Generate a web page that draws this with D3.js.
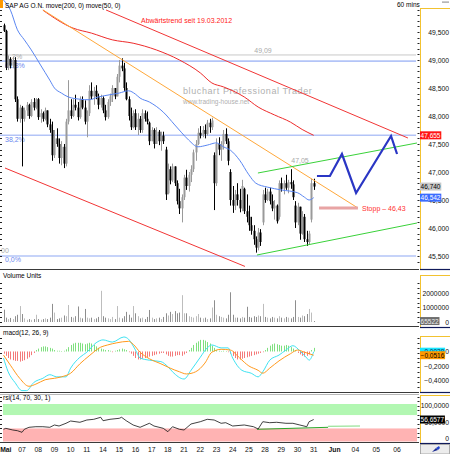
<!DOCTYPE html>
<html><head><meta charset="utf-8">
<script src="https://cdnjs.cloudflare.com/ajax/libs/d3/7.8.5/d3.min.js"></script>
<style>body{margin:0;background:#fff}svg{display:block}text{font-family:"Liberation Sans",Arial,sans-serif}</style>
</head><body><svg id="c" width="450" height="454"></svg>
<script>
// ---------- DATA ----------
const dayLabels = ["Mai","07","08","09","10","11","14","15","16","17","18","21","22","23","24","25","28","29","30","31","Jun","04","05","06"];
const daySlots  = [0,7,14,21,28,35,42,49,56,63,70,77,84,91,98,105,112,119,126,133,142,151,160,169];
const openP  = [49.62,49.52,48.86,49.02,48.90,49.00,48.30,47.95,48.15,47.95,48.10,48.20,48.00,48.25,48.15,48.30,47.98,48.05,47.95,48.10,47.85,47.75,47.30,47.60,47.50,47.25,47.45,47.15,47.90,48.10,48.00,48.20,48.15,47.98,48.30,48.15,47.90,48.05,48.45,48.35,48.45,48.35,48.20,48.32,48.10,47.98,48.25,48.35,48.50,48.35,48.70,48.90,48.85,48.50,48.30,48.00,47.80,48.05,47.80,47.95,47.75,48.05,47.95,47.88,47.55,47.75,47.50,47.72,47.55,47.65,47.40,46.62,47.05,46.85,47.10,46.80,46.48,46.35,46.55,46.90,46.75,46.95,47.05,47.35,47.50,47.70,47.65,47.75,47.68,47.88,47.80,47.30,46.80,47.50,47.40,47.50,47.68,47.55,47.00,46.50,46.40,46.60,46.50,46.35,46.70,46.30,46.20,46.05,45.95,45.80,45.65,45.92,46.10,46.60,46.50,46.65,46.48,46.35,46.40,46.20,46.80,46.70,46.80,46.72,46.82,46.78,46.40,46.10,46.38,45.90,46.20,45.80,45.75,46.15,46.80];
const highP  = [49.65,49.54,49.08,49.05,49.06,49.05,48.35,48.20,48.18,48.15,48.25,48.22,48.30,48.32,48.32,48.32,48.12,48.08,48.15,48.10,47.95,47.90,47.75,47.78,47.60,47.55,47.50,47.95,48.64,48.30,48.30,48.38,48.25,48.35,48.35,48.28,48.10,48.55,48.60,48.52,48.55,48.40,48.38,48.35,48.20,48.30,48.40,48.55,48.50,48.75,49.00,49.03,48.95,48.60,48.35,48.15,48.10,48.12,48.05,48.00,48.12,48.10,48.08,47.90,47.80,47.78,47.80,47.75,47.72,47.72,47.45,47.15,47.10,47.15,47.10,46.85,46.70,46.60,46.95,47.04,47.00,47.12,47.40,47.57,47.78,47.82,47.82,47.85,47.93,47.95,47.97,47.35,47.60,47.62,47.55,47.75,47.78,47.60,47.05,46.75,46.68,46.80,46.70,46.86,46.72,46.60,46.40,46.20,46.05,45.85,46.00,45.98,46.68,46.72,46.70,46.72,46.60,46.50,46.42,46.85,46.90,46.85,46.95,46.86,47.05,46.85,46.48,46.45,46.38,46.30,46.25,45.95,45.95,46.88,46.88];
const lowP   = [49.50,48.82,48.82,48.85,48.86,48.25,47.90,47.88,47.10,47.90,48.00,47.95,47.98,48.10,48.12,47.93,47.88,47.90,47.92,47.80,47.70,47.20,47.25,47.45,47.15,47.12,47.07,47.10,47.85,47.95,47.98,48.10,47.92,47.95,48.12,47.85,47.62,48.00,48.30,48.20,48.30,48.12,48.15,48.05,47.92,47.95,48.18,48.25,48.30,48.35,48.60,48.80,48.45,48.28,47.92,47.75,47.78,47.75,47.66,47.70,47.70,47.90,47.85,47.48,47.55,47.42,47.50,47.48,47.38,47.50,46.50,46.60,46.78,46.82,46.75,46.42,46.25,46.10,46.50,46.68,46.65,46.82,47.00,47.20,47.48,47.60,47.62,47.60,47.65,47.70,47.75,46.32,46.75,47.30,47.20,47.40,47.50,47.12,46.40,46.27,46.32,46.40,46.28,46.30,46.25,46.10,45.95,45.88,45.70,45.56,45.60,45.68,46.05,46.45,46.48,46.42,46.30,46.15,46.08,46.15,46.65,46.60,46.68,46.62,46.70,46.50,46.00,46.05,45.79,45.88,45.75,45.68,45.70,46.10,46.68];
const closeP = [49.52,48.86,49.02,48.90,49.00,48.30,47.95,48.15,47.95,48.10,48.20,48.00,48.25,48.15,48.30,47.98,48.05,47.95,48.10,47.85,47.75,47.30,47.60,47.50,47.25,47.45,47.15,47.90,48.10,48.00,48.20,48.15,47.98,48.30,48.15,47.90,48.05,48.45,48.35,48.45,48.35,48.20,48.32,48.10,47.98,48.25,48.35,48.50,48.35,48.70,48.90,48.85,48.50,48.30,48.00,47.80,48.05,47.80,47.95,47.75,48.05,47.95,47.90,47.55,47.75,47.50,47.72,47.55,47.65,47.55,46.60,47.05,46.85,47.10,46.80,46.48,46.35,46.55,46.90,46.75,46.95,47.05,47.35,47.50,47.70,47.65,47.75,47.68,47.88,47.80,47.92,46.80,47.50,47.40,47.50,47.68,47.55,47.20,46.50,46.40,46.60,46.50,46.35,46.75,46.30,46.20,46.05,45.95,45.80,45.65,45.92,45.75,46.60,46.50,46.65,46.48,46.35,46.40,46.12,46.80,46.70,46.80,46.72,46.82,46.78,46.55,46.10,46.38,45.90,46.20,45.80,45.75,45.90,46.80,46.74];
const volume = [850000,300000,200000,280000,200000,400000,500000, 1100000,550000,250000,150000,200000,150000,200000, 500000,200000,150000,200000,250000,200000,300000, 1250000,650000,200000,250000,300000,450000,400000, 1170000,350000,300000,400000,1070000,300000,250000, 900000,300000,250000,300000,200000,250000,350000, 2150000,400000,300000,250000,200000,350000,200000, 1100000,300000,250000,400000,700000,500000,300000, 1100000,600000,400000,250000,300000,200000,350000, 830000,300000,200000,250000,300000,200000,350000, 600000,450000,700000,550000,750000,600000,650000, 1850000,600000,600000,400000,350000,300000,400000, 550000,300000,250000,300000,200000,250000,1000000, 1500000,500000,400000,350000,300000,250000,500000, 2050000,500000,300000,300000,250000,350000,300000, 1050000,350000,300000,400000,350000,450000,400000, 1250000,350000,300000,250000,350000,300000,250000, 400000,300000,250000,350000,300000,250000,350000, 1500000,350000,300000,450000,400000,550000,900000, 650000,65522];
const ma50Idx = [0,3,6,9,12,16,20,22,25,28,33,37,41,46,50,54,57,59,63,69,74,77,80,84,88,92,95,98,102,106,109,114,120,127,130,132,134];
const ma50 = [50.07,49.89,49.54,49.36,49.18,48.91,48.64,48.50,48.41,48.34,48.30,48.29,48.34,48.38,48.41,48.45,48.39,48.32,48.25,48.07,47.84,47.70,47.57,47.45,47.48,47.52,47.45,47.39,47.21,46.95,46.80,46.73,46.68,46.63,46.55,46.50,46.542];
const ma200Idx = [17,30,38,47,56,66,76,85,90,95,104,110,117,124,129,134];
const ma200 = [49.89,49.57,49.48,49.36,49.30,49.18,49.00,48.77,48.59,48.52,48.34,48.16,48.02,47.89,47.76,47.655];
const macdIdx = [0,2,5,8,10,13,17,20,23,27,29,33,36,40,43,47,52,54,57,59,63,68,71,73,78,81,85,88,90,94,97,99,103,107,110,112,115,119,122,125,128,131,132,134];
const macdVal = [-0.09,-0.28,-0.43,-0.54,-0.54,-0.43,-0.37,-0.32,-0.35,-0.35,-0.23,-0.08,-0.01,0.12,0.16,0.13,0.20,0.17,0.02,-0.09,-0.12,-0.14,-0.21,-0.28,-0.38,-0.26,-0.08,0.05,0.09,0.05,0.05,-0.09,-0.26,-0.30,-0.35,-0.28,-0.12,-0.05,0.02,0.08,0.01,-0.09,-0.12,-0.0028];
const sigIdx = [0,3,7,11,14,18,22,25,29,33,37,42,45,49,54,56,59,63,68,72,76,79,83,87,90,94,98,102,106,110,112,115,119,124,127,130,134];
const sigVal = [-0.05,-0.19,-0.37,-0.48,-0.45,-0.39,-0.37,-0.35,-0.30,-0.17,-0.06,0.06,0.09,0.12,0.14,0.10,-0.01,-0.10,-0.17,-0.23,-0.28,-0.31,-0.28,-0.16,-0.01,0.03,0.02,-0.09,-0.20,-0.26,-0.30,-0.23,-0.13,-0.03,0.02,-0.01,-0.0516];
const histVal = [-0.03,-0.06,-0.09,-0.11,-0.12,-0.13,-0.13,-0.14,-0.13,-0.12,-0.10,-0.08,-0.05,-0.02,
 0.02,0.04,0.06,0.07,0.07,0.06,0.05,0.04, 0.02,0.01,0.01,0.0,0.01,
 0.03,0.06,0.09,0.11,0.12,0.12,0.12,0.11,0.10,0.11,0.12,0.11,0.09,0.07,
 0.05,0.04,0.03,0.02,0.02,0.01,-0.01,0.01,0.02,0.03,0.04,0.03,0.02,
 -0.01,-0.03,-0.06,-0.09,-0.11,-0.11,-0.10,-0.09,-0.08,-0.07,-0.06,-0.05,-0.04,-0.03,-0.02,
 -0.02,-0.04,-0.06,-0.07,-0.07,-0.06,-0.05,-0.05,-0.06,-0.04,-0.02,
 0.02,0.05,0.09,0.12,0.14,0.16,0.16,0.15,0.13,0.11,0.08,0.05,0.02,
 0.01,0.0,0.01,0.0,-0.01,
 -0.03,-0.06,-0.09,-0.11,-0.11,-0.10,-0.09,-0.08,-0.07,-0.06,-0.05,-0.04,-0.03,-0.02,-0.01,
 0.02,0.05,0.08,0.10,0.11,0.10,0.09,0.08,0.08,0.09,0.08,0.06,0.04,0.02,
 -0.02,-0.04,-0.06,-0.07,-0.06,-0.04, 0.02,0.05];
const rsiIdx = [0,1,4,6,8,9,11,14,17,20,22,24,27,29,33,36,39,42,43,46,50,51,53,56,59,63,65,69,71,73,76,78,81,85,88,91,94,96,99,104,108,110,112,115,118,122,125,128,131,132,134];
const rsiVal = [27.5,30.4,25.4,23.3,18.5,27.5,33.4,35.2,35.2,33.4,40.3,37.3,45.4,52.2,48.4,55.2,57.3,63.3,53.1,57.3,60.3,63.3,53.1,40.3,33.4,45.4,37.3,30.4,20.3,35.2,27.5,25.4,43.3,50.1,57.3,55.2,45.4,47.2,37.3,40.3,35.2,28.4,50.1,47.2,48.4,45.4,45.4,40.3,35.2,50.1,56.66];
// annotations [barSlot, value]
const redUpper = [[44.3,49.893],[174.7,47.607]];
const redLower = [[0.65,47.071],[104.3,45.314]];
const orangeLine = [[17.1,49.893],[153.1,46.357]];
const greenUpper = [[109.9,46.982],[178.6,47.518]];
const greenLower = [[109.5,45.518],[178.6,46.089]];
const forecast = [[135.4,46.929],[141.0,46.929],[146.2,47.321],[152.3,46.625],[167.4,47.643],[170.0,47.321]];
const stopLine = [[136.3,46.357],[153.1,46.357]];
const rsiGreenDark = [[109.5,27.5],[140.2,33.4]];
const rsiGreenLight = [[140.2,36.5],[154,37.3]];
const fibLevels = [48.98, 47.655, 45.50];
const fibNames = ["61,8%","38,2%","0,0%"];
const grayLevel = 49.09;
const priceTicks = [45.5,46,46.5,47,47.5,48,48.5,49,49.5];
const volTicks = [0,1000000,2000000];
const macdTicks = [0,-0.2,-0.4];
const rsiTicks = [0,50,100];
const rsiLast = 56.6577;

// ---------- SETUP ----------
const svg = d3.select("#c");
const FONT = "Liberation Sans, Arial, sans-serif";
const loc = d3.formatLocale({decimal:",",thousands:"",grouping:[3],currency:["",""]});
const f3 = loc.format(".3f"), f4 = loc.format(".4f"), f2 = loc.format(".2f");
const xs = d3.scaleLinear().domain([0,180]).range([3.5, 3.5+2.315*180]);
const yP = d3.scaleLinear().domain([45.2857, 50.0714]).range([268,0]);
const yV = d3.scaleLinear().domain([0, 3.517e6]).range([322,271]);
const yM = d3.scaleLinear().domain([-0.559, 0.324]).range([392,328]);
const yR = d3.scaleLinear().domain([0,100]).range([438.5,405]);
const defs = svg.append("defs");
defs.append("clipPath").attr("id","cm").append("rect").attr("x",0).attr("y",0).attr("width",418).attr("height",268);

const bars = d3.range(openP.length).map(i=>({i,o:openP[i],h:highP[i],l:lowP[i],c:closeP[i],v:volume[i]}));
const seg = (pts, sx, sy)=> d3.line().x(d=>sx(d[0])).y(d=>sy(d[1]))(pts);

// ---------- MAIN PANEL ----------
const main = svg.append("g").attr("clip-path","url(#cm)");
main.append("line").attr("x1",0).attr("x2",416).attr("y1",yP(grayLevel)).attr("y2",yP(grayLevel)).attr("stroke","#c8c8c8").attr("stroke-width",1);
fibLevels.forEach((v,k)=>{
  main.append("line").attr("x1",0).attr("x2",416).attr("y1",yP(v)).attr("y2",yP(v))
    .attr("stroke","#b3c4f7").attr("stroke-width",1.6);
  main.append("text").attr("x",5).attr("y",yP(v)+6.5).attr("font-size",7).attr("fill","#6a86ee").text(fibNames[k]);
});
main.append("text").attr("x",12).attr("y",59).attr("font-size",7).attr("fill","#aaa").text("2%");
main.append("text").attr("x",1).attr("y",253).attr("font-size",7).attr("fill","#aaa").text("00");
main.append("text").attr("x",263).attr("y",53).attr("font-size",7).attr("fill","#aaa").attr("text-anchor","middle").text(f2(grayLevel));
// watermark
main.append("text").attr("x",183).attr("y",94).attr("font-size",9).attr("fill","#b0b0b0").attr("letter-spacing",0.6).text("bluchart Professional Trader");
main.append("text").attr("x",183).attr("y",104).attr("font-size",6.5).attr("fill","#b0b0b0").text("www.trading-house.net");

// candles
const cg = main.append("g");
bars.forEach(b=>{
  const col = b.c>=b.o ? "#9a9a9a" : "#000";
  const x = Math.round(xs(b.i));
  cg.append("line").attr("x1",x+0.5).attr("x2",x+0.5).attr("y1",yP(b.h)).attr("y2",yP(b.l)).attr("stroke",col).attr("stroke-width",1);
  const yt = yP(Math.max(b.o,b.c)), yb = yP(Math.min(b.o,b.c));
  cg.append("rect").attr("x",x-0.5).attr("y",yt).attr("width",2).attr("height",Math.max(1,yb-yt)).attr("fill",col);
});
// moving averages
main.append("path").attr("d",d3.line().curve(d3.curveMonotoneX).x((d,k)=>xs(ma50Idx[k])).y(d=>yP(d))(ma50))
  .attr("fill","none").attr("stroke","#5a86f2").attr("stroke-width",1);
main.append("path").attr("d",d3.line().curve(d3.curveMonotoneX).x((d,k)=>xs(ma200Idx[k])).y(d=>yP(d))(ma200))
  .attr("fill","none").attr("stroke","#ee2b2b").attr("stroke-width",1);
// trend lines
[[redUpper,"#f23535",1],[redLower,"#f23535",1],[orangeLine,"#ffa83a",1],[greenUpper,"#3ad23a",1],[greenLower,"#3ad23a",1]].forEach(t=>{
  main.append("path").attr("d",seg(t[0],xs,yP)).attr("stroke",t[1]).attr("stroke-width",t[2]).attr("fill","none");
});
main.append("path").attr("d",seg(stopLine,xs,yP)).attr("stroke","#e8a4a4").attr("stroke-width",3).attr("fill","none");
main.append("path").attr("d",seg(forecast,xs,yP)).attr("stroke","#2a36c4").attr("stroke-width",2.2).attr("fill","none").attr("stroke-linejoin","miter");
main.append("text").attr("x",362).attr("y",yP(stopLine[0][1])+3).attr("font-size",7).attr("fill","#ff3030").text("Stopp \u2013 46,43");
main.append("text").attr("x",300).attr("y",163).attr("font-size",7).attr("fill","#aaa").attr("text-anchor","middle").text("47,05");
main.append("text").attr("x",141).attr("y",23).attr("font-size",7).attr("fill","#ff2020").text("Abwärtstrend seit 19.03.2012");
// title
svg.append("rect").attr("x",0).attr("y",0).attr("width",3).attr("height",8).attr("fill","#ff9900");
svg.append("text").attr("x",5).attr("y",7.5).attr("font-size",6.5).attr("fill","#000").text("SAP AG O.N. move(200, 0) move(50, 0)");
svg.append("text").attr("x",397).attr("y",7).attr("font-size",6.5).attr("fill","#000").text("60 mins");
svg.append("rect").attr("x",442).attr("y",1.5).attr("width",7).attr("height",1.2).attr("fill","#999");

// ---------- VOLUME ----------
const vg = svg.append("g");
vg.append("text").attr("x",3).attr("y",278).attr("font-size",6.5).text("Volume Units");
bars.forEach(b=>{
  const x = Math.round(xs(b.i));
  vg.append("rect").attr("x",x).attr("y",yV(b.v)).attr("width",1).attr("height",yV(0)-yV(b.v))
    .attr("fill", b.c>=b.o ? "#bdbdbd" : "#8e8e8e");
});

// ---------- MACD ----------
const mg = svg.append("g");
mg.append("text").attr("x",3).attr("y",335).attr("font-size",6.5).text("macd(12, 26, 9)");
histVal.forEach((v,i)=>{
  const x = Math.round(xs(i));
  mg.append("rect").attr("x",x).attr("width",1).attr("y",Math.min(yM(v),yM(0))).attr("height",Math.max(0.5,Math.abs(yM(v)-yM(0))))
    .attr("fill", v>=0 ? "#7fe07f" : "#f47a7a");
});
mg.append("path").attr("d",d3.line().curve(d3.curveMonotoneX).x((d,k)=>xs(macdIdx[k])).y(d=>yM(d))(macdVal))
  .attr("fill","none").attr("stroke","#3fe3f2").attr("stroke-width",1);
mg.append("path").attr("d",d3.line().curve(d3.curveMonotoneX).x((d,k)=>xs(sigIdx[k])).y(d=>yM(d))(sigVal))
  .attr("fill","none").attr("stroke","#ff9a1e").attr("stroke-width",1);

// ---------- RSI ----------
const rg = svg.append("g");
rg.append("rect").attr("x",3).attr("width",414).attr("y",404).attr("height",yR(70)-404).attr("fill","#b2f7b2");
rg.append("rect").attr("x",3).attr("width",414).attr("y",yR(30)).attr("height",441.5-yR(30)).attr("fill","#ffb3b3");
rg.append("text").attr("x",3).attr("y",400).attr("font-size",6.5).text("rsi(14, 70, 30, 1)");
rg.append("path").attr("d",seg(rsiGreenDark,xs,yR)).attr("stroke","#2aa82a").attr("stroke-width",1).attr("fill","none");
rg.append("path").attr("d",seg(rsiGreenLight,xs,yR)).attr("stroke","#7fdc7f").attr("stroke-width",1).attr("fill","none");
rg.append("path").attr("d",d3.line().x((d,k)=>xs(rsiIdx[k])).y(d=>yR(d))(rsiVal))
  .attr("fill","none").attr("stroke","#111").attr("stroke-width",0.8);

// ---------- SEPARATORS ----------
[269.5,326.5,392.5,442.5].forEach(y=>svg.append("line").attr("x1",0).attr("x2",419).attr("y1",y).attr("y2",y).attr("stroke","#3a3a3a").attr("stroke-width",1));
svg.append("line").attr("x1",0).attr("x2",419).attr("y1",394.5).attr("y2",394.5).attr("stroke","#888").attr("stroke-width",0.6);

// ---------- RIGHT AXES ----------
function axisBox(top,bottom){
  svg.append("line").attr("x1",420.5).attr("x2",420.5).attr("y1",top).attr("y2",bottom).attr("stroke","#f2c230").attr("stroke-width",1);
  svg.append("line").attr("x1",420).attr("x2",450).attr("y1",top+0.5).attr("y2",top+0.5).attr("stroke","#f2c230").attr("stroke-width",1);
  svg.append("line").attr("x1",420).attr("x2",450).attr("y1",bottom-0.5).attr("y2",bottom-0.5).attr("stroke","#101a5a").attr("stroke-width",1.2);
}
axisBox(8,270); axisBox(275,328); axisBox(336,393); axisBox(395,444);

function minorTicks(scale, vals, top, bottom){
  vals.forEach(v=>{const y=Math.round(scale(v))+0.5; if(y<top||y>bottom) return;
    svg.append("line").attr("x1",417.5).attr("x2",419.5).attr("y1",y).attr("y2",y).attr("stroke","#222").attr("stroke-width",1);
    svg.append("line").attr("x1",0).attr("x2",2).attr("y1",y).attr("y2",y).attr("stroke","#222").attr("stroke-width",1);
  });
}
minorTicks(yP, d3.range(45.3,50.1,0.1), 10, 266);
minorTicks(yV, d3.range(0,3.6e6,333333), 280, 325);
minorTicks(yM, d3.range(-0.55,0.33,0.0667), 337, 391);
minorTicks(yR, d3.range(-10,131,13.4), 397, 441);

function rightAxis(scale, ticks, fmt){
  const g = svg.append("g").attr("transform","translate(420,0)")
    .call(d3.axisRight(scale).tickValues(ticks).tickSize(0).tickFormat(fmt));
  g.select(".domain").remove();
  g.selectAll("text").attr("x",29).attr("text-anchor","end").attr("font-size",6.8).attr("font-family",FONT).attr("fill","#111").attr("dy","0.35em");
  return g;
}
rightAxis(yP, priceTicks, f3);
rightAxis(yV, volTicks, d=> d===0?"0":String(d));
rightAxis(yM, macdTicks, d=> d===0?"0":f4(d));
rightAxis(yR, rsiTicks, d=> d===0?"0":f4(d));

function valueBox(y, txt, bg, fg){
  const r = svg.append("rect").attr("x",420).attr("y",y-4).attr("height",8).attr("fill",bg);
  const t = svg.append("text").attr("x",420.6).attr("y",y+2.5).attr("font-size",6.5).attr("fill",fg).text(txt);
  r.attr("width", t.node().getComputedTextLength()+1.4);
}
valueBox(yP(ma200[ma200.length-1]), f3(ma200[ma200.length-1]), "#ff1414", "#fff");
valueBox(yP(closeP[closeP.length-1]), f3(closeP[closeP.length-1]), "#c9c9c9", "#000");
valueBox(yP(ma50[ma50.length-1]), f3(ma50[ma50.length-1]), "#3a6cff", "#fff");
valueBox(yV(volume[volume.length-1]), String(volume[volume.length-1]), "#6e6e6e", "#eee");
valueBox(yM(macdVal[macdVal.length-1]), f4(macdVal[macdVal.length-1]), "#19e6ff", "#103060");
valueBox(yM(sigVal[sigVal.length-1]), f4(sigVal[sigVal.length-1]), "#ff9a00", "#000");
valueBox(yR(rsiVal[rsiVal.length-1]), f4(rsiLast), "#000", "#fff");

// ---------- X AXIS ----------
const xa = svg.append("g").attr("transform","translate(0,446)")
  .call(d3.axisBottom(xs).tickValues(daySlots).tickSize(0).tickFormat((d,k)=>dayLabels[k]));
xa.select(".domain").remove();
xa.selectAll("text").attr("font-size",6.8).attr("font-family",FONT).attr("fill","#111").attr("dx",1.8).attr("dy","0.45em")
  .attr("font-weight",(d,k)=> (dayLabels[k]==="Mai"||dayLabels[k]==="Jun")?"bold":"normal");
svg.append("rect").attr("x",420.5).attr("y",444.5).attr("width",29).attr("height",9.5).attr("fill","#ececec").attr("stroke","#999").attr("stroke-width",0.8);
svg.append("path").attr("d","M432,452 L436,448 L438,450 Z").attr("fill","#1a2a90");
svg.append("path").attr("d","M436,448 L439,446 L440,448 L438,450 Z").attr("fill","#2244cc");
</script></body></html>
